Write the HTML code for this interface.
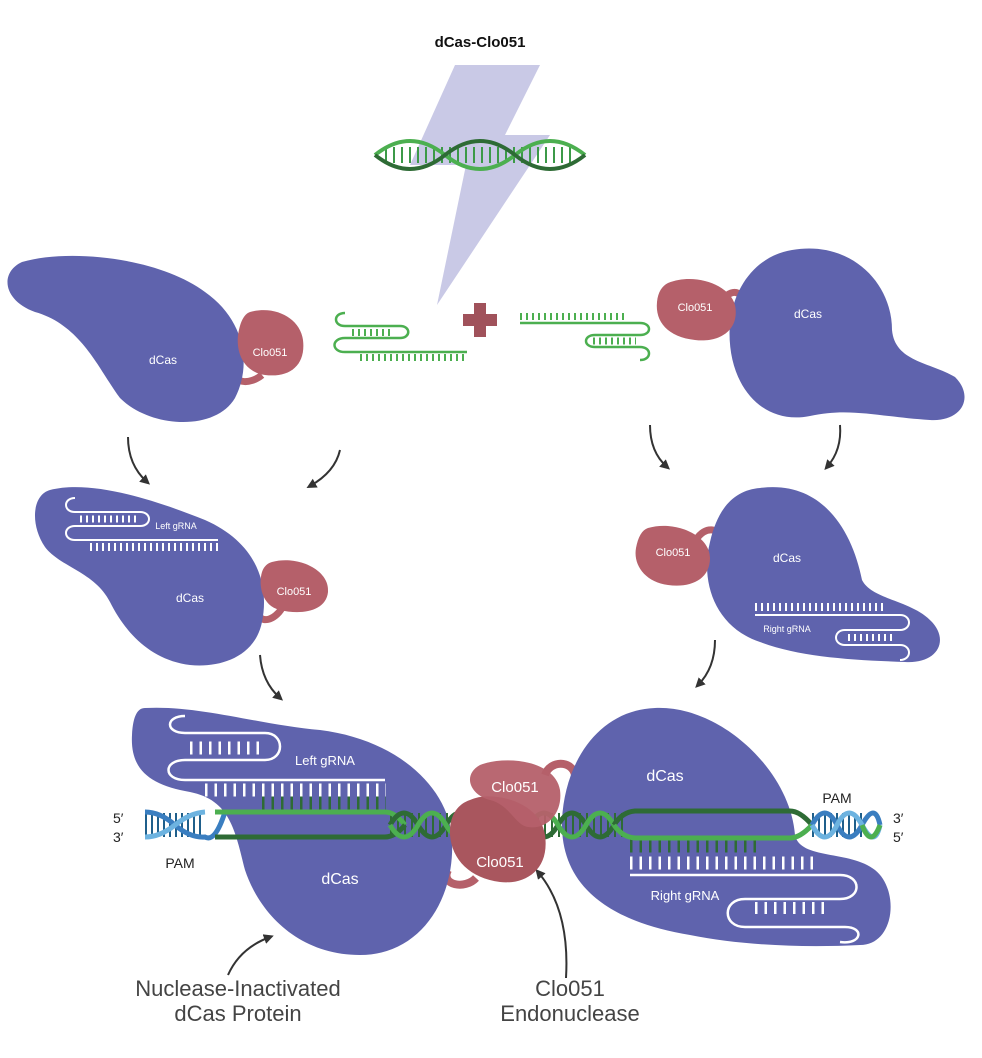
<!DOCTYPE html>
<html><head><meta charset="utf-8"><style>
html,body{margin:0;padding:0;background:#fff;width:982px;height:1058px;overflow:hidden}
text{font-family:"Liberation Sans",sans-serif}
</style></head><body>
<svg width="982" height="1058" viewBox="0 0 982 1058" xmlns="http://www.w3.org/2000/svg">
<defs>
<marker id="ah" markerWidth="10" markerHeight="10" refX="6" refY="5" orient="auto" markerUnits="userSpaceOnUse">
<path d="M0,0 L10,5 L0,10 Z" fill="#333"/></marker>
</defs>
<text x="480" y="47" font-size="15" font-weight="bold" text-anchor="middle" fill="#111">dCas-Clo051</text>
<!-- lightning -->
<polygon points="455,65 540,65 505,135 550,135 437,305 466,165 410,165" fill="#c9c9e6"/>
<!-- top DNA -->
<line x1="385" y1="155" x2="575" y2="155" stroke="#3c9a48" stroke-width="16" stroke-dasharray="2 6"/>
<path d="M375,155 Q410,127 445,155 T515,155 T585,155" fill="none" stroke="#4caf50" stroke-width="4"/>
<path d="M375,155 Q410,183 445,155 T515,155 T585,155" fill="none" stroke="#2e6b35" stroke-width="4"/>

<!-- top-left dCas -->
<path d="M235,365 C230,385 250,385 262,375" fill="none" stroke="#b5606a" stroke-width="7"/>
<path d="M22,262 C70,248 160,258 205,292 C245,320 252,365 235,398 C215,432 150,428 120,398 C100,372 82,325 35,312 C2,300 0,272 22,262 Z" fill="#5f63ad"/>
<path d="M250,312 C275,305 300,318 303,340 C306,365 290,378 265,375 C245,372 236,355 238,335 C240,322 244,314 250,312 Z" fill="#b5606a"/>
<text x="163" y="364" font-size="12" fill="#fff" text-anchor="middle">dCas</text>
<text x="270" y="356" font-size="11" fill="#fff" text-anchor="middle">Clo051</text>

<!-- top-right dCas -->
<path d="M722,300 C735,285 745,295 740,305" fill="none" stroke="#b5606a" stroke-width="7"/>
<path d="M792,250 C850,240 892,282 892,330 C895,362 930,362 955,377 C975,397 962,422 930,420 C880,417 850,407 810,416 C760,426 725,382 730,322 C735,282 760,255 792,250 Z" fill="#5f63ad"/>
<path d="M668,283 C695,272 730,285 735,305 C740,330 720,343 695,340 C668,337 655,322 657,302 C658,292 662,286 668,283 Z" fill="#b5606a"/>
<text x="808" y="318" font-size="12" fill="#fff" text-anchor="middle">dCas</text>
<text x="695" y="311" font-size="11" fill="#fff" text-anchor="middle">Clo051</text>

<!-- middle gRNAs -->
<g fill="none" stroke="#4caf50" stroke-width="2.5">
<path d="M345,313 C333,313 333,326 345,326 L400,326 C411,326 411,338 400,338 L345,338 C331,338 331,352 345,352 L467,352"/>
<line x1="352" y1="332.5" x2="394" y2="332.5" stroke-width="7" stroke-dasharray="2 4"/>
<line x1="360" y1="357.5" x2="468" y2="357.5" stroke-width="7" stroke-dasharray="2 4"/>
<path d="M520,323 L640,323 C652,323 652,335 640,335 L595,335 C583,335 583,347 595,347 L640,347 C652,347 652,360 640,360"/>
<line x1="520" y1="316.5" x2="628" y2="316.5" stroke-width="7" stroke-dasharray="2 4"/>
<line x1="593" y1="341" x2="636" y2="341" stroke-width="7" stroke-dasharray="2 4"/>
</g>
<path d="M480,303 V337 M463,320 H497" stroke="#a0525b" stroke-width="12"/>

<!-- arrows -->
<g fill="none" stroke="#333" stroke-width="2" marker-end="url(#ah)">
<path d="M128,437 Q128,465 147,482"/>
<path d="M340,450 Q335,472 310,486"/>
<path d="M650,425 Q650,452 667,467"/>
<path d="M840,425 Q842,450 827,467"/>
<path d="M260,655 Q262,682 280,698"/>
<path d="M715,640 Q715,668 698,685"/>
<path d="M228,975 Q240,948 270,937"/>
<path d="M566,978 Q570,910 538,872"/>
</g>

<!-- mid-left -->
<path d="M258,612 C260,625 275,620 282,608" fill="none" stroke="#b5606a" stroke-width="7"/>
<path d="M50,490 C90,480 150,498 205,520 C255,542 270,582 262,622 C255,657 220,668 190,665 C150,660 125,632 110,602 C95,572 60,567 45,547 C30,525 32,495 50,490 Z" fill="#5f63ad"/>
<path d="M272,562 C298,555 330,570 328,592 C326,612 300,615 280,610 C262,606 258,585 262,572 C264,566 268,563 272,562 Z" fill="#b5606a"/>
<g fill="none" stroke="#fff" stroke-width="2">
<path d="M75,498 C63,498 63,512 75,512 L140,512 C152,512 152,526 140,526 L75,526 C63,526 63,540 75,540 L218,540"/>
<line x1="80" y1="519" x2="138" y2="519" stroke-width="7" stroke-dasharray="2 4"/>
<line x1="90" y1="547" x2="218" y2="547" stroke-width="8" stroke-dasharray="2 4"/>
</g>
<text x="176" y="529" font-size="9" fill="#fff" text-anchor="middle">Left gRNA</text>
<text x="190" y="602" font-size="12" fill="#fff" text-anchor="middle">dCas</text>
<text x="294" y="595" font-size="11" fill="#fff" text-anchor="middle">Clo051</text>

<!-- mid-right -->
<path d="M696,540 C705,525 720,528 722,540" fill="none" stroke="#b5606a" stroke-width="7"/>
<path d="M760,488 C822,480 852,530 862,580 C872,600 912,600 932,622 C950,642 936,664 905,662 C850,660 800,657 760,642 C715,627 700,582 710,542 C718,507 735,490 760,488 Z" fill="#5f63ad"/>
<path d="M648,528 C675,520 710,535 710,558 C710,580 690,588 668,585 C645,582 633,565 636,548 C638,537 642,530 648,528 Z" fill="#b5606a"/>
<g fill="none" stroke="#fff" stroke-width="2">
<line x1="755" y1="607" x2="885" y2="607" stroke-width="8" stroke-dasharray="2 4"/>
<path d="M755,615 L900,615 C912,615 912,630 900,630 L845,630 C833,630 833,645 845,645 L900,645 C912,645 912,660 900,660"/>
<line x1="848" y1="637.5" x2="896" y2="637.5" stroke-width="7" stroke-dasharray="2 4"/>
</g>
<text x="787" y="562" font-size="12" fill="#fff" text-anchor="middle">dCas</text>
<text x="673" y="556" font-size="11" fill="#fff" text-anchor="middle">Clo051</text>
<text x="787" y="632" font-size="9" fill="#fff" text-anchor="middle">Right gRNA</text>

<!-- bottom complex -->
<path d="M448,870 C440,885 465,890 476,878" fill="none" stroke="#b5606a" stroke-width="8"/>
<path d="M545,775 C550,760 572,760 575,775" fill="none" stroke="#b5606a" stroke-width="8"/>
<path d="M145,708 C200,705 260,725 320,730 C400,740 450,790 452,840 C455,900 420,955 360,955 C300,955 260,915 245,870 C235,830 230,800 190,792 C150,785 130,770 132,735 C133,715 138,708 145,708 Z" fill="#5f63ad"/>
<path d="M655,708 C720,705 790,770 795,835 C800,860 850,850 875,870 C900,890 895,945 860,945 C800,948 740,945 690,935 C600,920 560,880 562,820 C565,760 600,710 655,708 Z" fill="#5f63ad"/>
<!-- left gRNA -->
<g fill="none" stroke="#fff" stroke-width="2.5">
<path d="M185,716 C165,716 165,733 185,733 L265,733 C285,733 285,760 265,760 L185,760 C163,760 163,780 185,780 L385,780"/>
<line x1="190" y1="748" x2="265" y2="748" stroke-width="13" stroke-dasharray="2.5 7"/>
<line x1="205" y1="790" x2="386" y2="790" stroke-width="13" stroke-dasharray="2.5 7"/>
</g>
<line x1="262" y1="803" x2="386" y2="803" stroke="#2e6b35" stroke-width="13" stroke-dasharray="2.5 7"/>
<!-- right gRNA -->
<line x1="630" y1="846" x2="756" y2="846" stroke="#2e6b35" stroke-width="13" stroke-dasharray="2.5 7"/>
<g fill="none" stroke="#fff" stroke-width="2.5">
<line x1="630" y1="863" x2="813" y2="863" stroke-width="13" stroke-dasharray="2.5 7"/>
<path d="M630,875 L840,875 C862,875 862,899 840,899 L745,899 C722,899 722,927 745,927 L845,927 C865,927 862,945 840,942"/>
<line x1="755" y1="908" x2="828" y2="908" stroke-width="12" stroke-dasharray="2.5 7"/>
</g>
<!-- DNA -->
<line x1="390" y1="825" x2="625" y2="825" stroke="#2e6b35" stroke-width="24" stroke-dasharray="2 5"/>
<line x1="145" y1="825" x2="205" y2="825" stroke="#1f5f8b" stroke-width="24" stroke-dasharray="2 4"/>
<line x1="812" y1="825" x2="862" y2="825" stroke="#1f5f8b" stroke-width="24" stroke-dasharray="2 4"/>
<g fill="none" stroke-width="5">
<path d="M145,812 Q160,812 175,825 T205,837 Q215,843 225,812" stroke="#3a7ec0"/>
<path d="M145,837 Q160,837 175,825 T205,812" stroke="#6db3e0"/>
<path d="M215,812 L385,812 Q395,812 405,825" stroke="#4caf50"/>
<path d="M215,837 L385,837 Q395,837 405,825" stroke="#2e6b35"/>
<path d="M390,825 Q404,801 418,825 T446,825 T474,825 T502,825 T530,825 T558,825 T586,825 T614,825" stroke="#2e6b35"/>
<path d="M390,825 Q404,849 418,825 T446,825 T474,825 T502,825 T530,825 T558,825 T586,825 T614,825" stroke="#4caf50"/>
<path d="M614,825 Q622,812 635,811 L790,811 Q800,811 812,825" stroke="#2e6b35"/>
<path d="M614,825 Q622,837 635,838 L790,838 Q800,838 812,825" stroke="#4caf50"/>
<path d="M812,825 Q825,801 837,825 T862,825 T880,825" stroke="#3a7ec0"/>
<path d="M812,825 Q825,849 837,825 T862,825 T880,825" stroke="#6db3e0"/>
<path d="M862,825 Q871,849 880,825" stroke="#4caf50"/>
</g>
<!-- Clo051 bottom -->
<path d="M470,800 C490,790 540,800 545,835 C550,870 525,885 500,882 C470,878 452,860 450,835 C449,815 458,804 470,800 Z" fill="#a9565e"/>
<path d="M480,765 C505,755 555,760 560,790 C563,812 548,830 528,827 C515,825 510,805 490,800 C470,795 462,775 480,765 Z" fill="#b5606a" opacity="0.95"/>
<text x="515" y="792" font-size="15" fill="#fff" text-anchor="middle">Clo051</text>
<text x="500" y="867" font-size="15" fill="#fff" text-anchor="middle">Clo051</text>
<text x="665" y="781" font-size="16" fill="#fff" text-anchor="middle">dCas</text>
<text x="340" y="884" font-size="16" fill="#fff" text-anchor="middle">dCas</text>
<text x="325" y="765" font-size="13" fill="#fff" text-anchor="middle">Left gRNA</text>
<text x="685" y="900" font-size="13" fill="#fff" text-anchor="middle">Right gRNA</text>
<text x="180" y="868" font-size="14" fill="#222" text-anchor="middle">PAM</text>
<text x="837" y="803" font-size="14" fill="#222" text-anchor="middle">PAM</text>
<text x="113" y="823" font-size="14" fill="#222">5′</text>
<text x="113" y="842" font-size="14" fill="#222">3′</text>
<text x="893" y="823" font-size="14" fill="#222">3′</text>
<text x="893" y="842" font-size="14" fill="#222">5′</text>
<text x="238" y="996" font-size="22" fill="#444" text-anchor="middle">Nuclease-Inactivated</text>
<text x="238" y="1021" font-size="22" fill="#444" text-anchor="middle">dCas Protein</text>
<text x="570" y="996" font-size="22" fill="#444" text-anchor="middle">Clo051</text>
<text x="570" y="1021" font-size="22" fill="#444" text-anchor="middle">Endonuclease</text>
</svg>
</body></html>
